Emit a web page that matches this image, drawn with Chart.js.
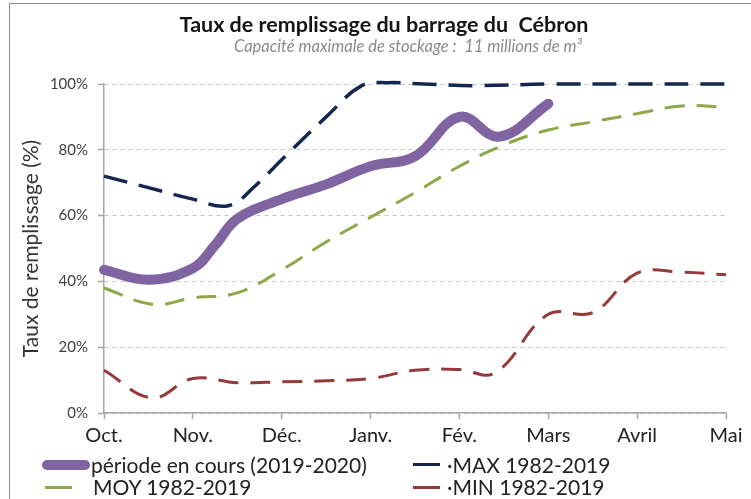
<!DOCTYPE html>
<html lang="fr">
<head>
<meta charset="utf-8">
<title>Taux de remplissage du barrage du Cébron</title>
<script src="https://cdn.jsdelivr.net/npm/chart.js@4.4.1/dist/chart.umd.min.js"></script>
<style>
  body { margin: 0; background: #fff; }
  #wrap { position: relative; width: 751px; height: 499px; background: #fff; overflow: hidden; font-family: Lato, sans-serif; }
  #frame { position: absolute; left: 9px; top: 3px; right: -2px; bottom: -2px; border-left: 1.5px solid #8c8c8c; border-top: 1.5px solid #8c8c8c; pointer-events: none; }
  .center { position: absolute; transform: translateX(-50%); white-space: nowrap; }
  #title { left: 384px; top: 11px; font-size: 21.5px; line-height: 26px; font-weight: bold; color: #151515; }
  #subtitle { left: 408px; top: 37px; font-size: 16.5px; line-height: 19px; font-style: italic; color: #8a8a8a; }
  .lg { position: absolute; white-space: nowrap; font-size: 21px; line-height: 22px; color: #222; }
  .sym { position: absolute; }
</style>
</head>
<body>
<div id="wrap">
  <canvas id="chart" width="751" height="499"></canvas>
  <div id="frame"></div>
  <div id="title" class="center">Taux de remplissage du barrage du&nbsp; Cébron</div>
  <div id="subtitle" class="center">Capacité maximale de stockage :&nbsp; 11 millions de m³</div>

  <div class="sym" style="left:42px;top:460px;width:48px;height:10px;border-radius:5px;background:#8064a2"></div>
  <div class="lg" style="left:91px;top:454px">période en cours (2019-2020)</div>
  <div class="sym" style="left:413px;top:463px;width:27px;height:3px;background:#13264f"></div>
  <div class="lg" style="left:447px;top:454px">·MAX 1982-2019</div>

  <div class="sym" style="left:45px;top:486px;width:27px;height:3px;background:#8ca84a"></div>
  <div class="lg" style="left:93px;top:476px">MOY 1982-2019</div>
  <div class="sym" style="left:413px;top:486px;width:27px;height:3px;background:#943a3a"></div>
  <div class="lg" style="left:447px;top:476px">·MIN 1982-2019</div>
</div>
<script>
// mois : 0 = Oct. ... 7 = Mai
const months = ["Oct.", "Nov.", "Déc.", "Janv.", "Fév.", "Mars", "Avril", "Mai"];
const yTicks = [0, 20, 40, 60, 80, 100];

// période en cours (2019-2020)
const currentX = [0, 0.5, 1, 1.25, 1.5, 2, 2.5, 3, 3.5, 4, 4.45, 5];
const currentY = [43.5, 40.5, 44, 51, 59, 65, 69.5, 75, 78, 90, 84, 94];

// MAX 1982-2019
const maxX = [0, 0.5, 1, 1.4, 1.7, 2, 2.5, 2.9, 3.2, 3.6, 4.2, 5, 6, 7];
const maxY = [72, 68.5, 65, 63, 69, 77, 90, 99.5, 100.4, 100, 99.5, 100, 100, 100];

// MOY 1982-2019
const moyX = [0, 0.55, 1, 1.5, 2, 2.5, 3, 3.5, 4, 4.5, 5, 5.5, 6, 6.5, 7];
const moyY = [38, 33, 35, 36.5, 43.5, 52, 59.5, 67, 75, 81.5, 86, 88.5, 91, 93.3, 93];

// MIN 1982-2019
const minX = [0, 0.54, 1, 1.5, 2, 2.5, 3, 3.5, 4, 4.4, 5, 5.5, 6, 6.5, 7];
const minY = [13, 4.6, 10.5, 9.2, 9.5, 9.8, 10.5, 13, 13.2, 12.2, 30, 30.5, 42.5, 42.8, 42];

const pts = (xs, ys) => xs.map((x, i) => ({ x: x, y: ys[i] }));

const lineBase = { pointRadius: 0, tension: 0.4, fill: false, clip: false };

new Chart(document.getElementById("chart"), {
  type: "line",
  data: {
    datasets: [
      Object.assign({}, lineBase, {
        label: "période en cours (2019-2020)",
        data: pts(currentX, currentY),
        borderColor: "#8064a2",
        borderWidth: 10,
        borderCapStyle: "round",
        borderJoinStyle: "round"
      }),
      Object.assign({}, lineBase, {
        label: "MAX 1982-2019",
        data: pts(maxX, maxY),
        borderColor: "#13264f",
        borderWidth: 3.5,
        borderDash: [24, 12]
      }),
      Object.assign({}, lineBase, {
        label: "MOY 1982-2019",
        data: pts(moyX, moyY),
        borderColor: "#8ca84a",
        borderWidth: 3,
        borderDash: [20, 12]
      }),
      Object.assign({}, lineBase, {
        label: "MIN 1982-2019",
        data: pts(minX, minY),
        borderColor: "#943a3a",
        borderWidth: 3,
        borderDash: [20, 12]
      })
    ]
  },
  options: {
    responsive: false,
    animation: false,
    layout: { padding: { top: 84, left: 0, right: 25, bottom: 0 } },
    plugins: {
      legend: { display: false },
      tooltip: { enabled: false },
      title: { display: false }
    },
    scales: {
      x: {
        type: "linear",
        min: 0,
        max: 7,
        afterFit: s => { s.height = 86; },
        afterBuildTicks: s => { s.ticks = months.map((m, i) => ({ value: i })); },
        ticks: {
          callback: v => months[v],
          autoSkip: false,
          maxRotation: 0,
          padding: 5,
          color: "#222",
          font: { family: "Lato", size: 20 }
        },
        grid: { drawOnChartArea: false, tickLength: 6, tickColor: "#a6a6a6", tickWidth: 1.5 },
        border: { color: "#a6a6a6", width: 1.5 }
      },
      y: {
        min: 0,
        max: 100,
        afterFit: s => { s.width = 104; },
        afterBuildTicks: s => { s.ticks = yTicks.map(v => ({ value: v })); },
        ticks: {
          callback: v => v + "%",
          padding: 10,
          color: "#404040",
          font: { family: "Lato", size: 15 }
        },
        grid: { color: "#c4c4c4", lineWidth: 1, tickLength: 6, tickColor: "#a6a6a6", tickWidth: 1.5 },
        border: { color: "#a6a6a6", width: 1.5, dash: [4, 4] },
        title: {
          display: true,
          text: "Taux de remplissage (%)",
          color: "#333",
          font: { family: "Lato", size: 21 },
          padding: { top: 19, bottom: 0 }
        }
      }
    }
  }
});
</script>
</body>
</html>
